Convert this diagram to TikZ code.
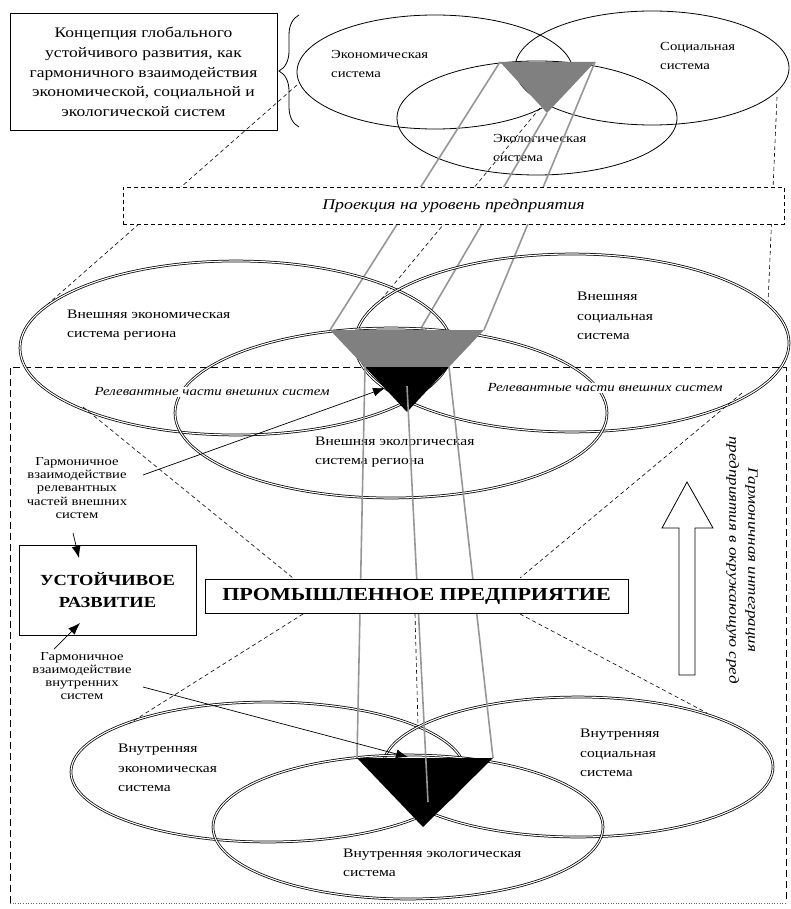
\documentclass[tikz,border=0pt]{standalone}
\usepackage{fontspec}
\setmainfont{Liberation Serif}[FakeStretch=1.2]
\usetikzlibrary{arrows.meta,decorations.pathreplacing}
\definecolor{linegray}{RGB}{150,150,150}
\definecolor{trigray}{RGB}{128,128,128}
\begin{document}
\begin{tikzpicture}[x=1pt,y=-1pt,
  thinell/.style={line width=0.8pt},
  dblell/.style={line width=0.75pt,double=white,double distance=1.1pt},
  projline/.style={line width=0.6pt,dash pattern=on 4pt off 3pt},
  framedash/.style={line width=0.9pt,dash pattern=on 7pt off 4pt},
  grayline/.style={draw=linegray,line width=1.6pt},
  arr/.style={line width=0.7pt,-{Latex[length=12pt,width=9pt]}},
  lbl/.style={align=left,anchor=west,inner sep=0pt},
  smalllbl/.style={font=\fontsize{12.3}{19}\selectfont},
  midlbl/.style={font=\fontsize{13}{19.5}\selectfont},
  rel/.style={font=\itshape\fontsize{12.4}{14}\selectfont,fill=white,inner sep=1pt},
  sidelbl/.style={font=\fontsize{12.2}{13.2}\selectfont,align=center,inner sep=0pt},
  bigbox/.style={draw,line width=1pt,fill=white,align=center},
]
\useasboundingbox (0,0) rectangle (791,909);

% ---------- enterprise frame ----------
\coordinate (fTL) at (10,367); \coordinate (fTR) at (786,367);
\coordinate (fBL) at (10,903); \coordinate (fBR) at (786,903);
\draw[framedash] (fBL) -- (fTL) -- (fTR) -- (fBR);
\draw[line width=0.6pt,dotted,black!60] (fBL) -- (fBR);

% ---------- top level ----------
\node[draw,line width=1pt,minimum width=267pt,minimum height=117pt,align=center,
      font=\fontsize{14.6}{19.6}\selectfont] (concept) at (143.5,72)
  {Концепция глобального\\устойчивого развития, как\\гармоничного взаимодействия\\экономической, социальной и\\экологической систем};
\coordinate (brB) at (299,127); \coordinate (brT) at (299,15);
\draw[line width=0.8pt,decorate,decoration={brace,amplitude=20pt}] (brB) -- (brT);

\coordinate (eT) at (435,72); \coordinate (sT) at (652,68); \coordinate (oT) at (537,118);
\draw[thinell] (eT) ellipse [x radius=138pt,y radius=57pt];
\draw[thinell] (sT) ellipse [x radius=137pt,y radius=57pt];
\draw[thinell] (oT) ellipse [x radius=140pt,y radius=57pt];

\coordinate (tA) at (500,62); \coordinate (tB) at (595,62); \coordinate (tC) at (547,113);
\fill[trigray] (tA) -- (tB) -- (tC) -- cycle;

\node[lbl,smalllbl] (econT) at (331,64) {Экономическая\\система};
\node[lbl,smalllbl] (socT) at (660,56) {Социальная\\система};
\node[lbl,smalllbl] (ecoT) at (493,148) {Экологическая\\система};

% projection dashed lines (top -> middle)
\coordinate (pa1) at (297,85);  \coordinate (pa2) at (40,311);
\coordinate (pb1) at (540,108); \coordinate (pb2) at (380,301);
\coordinate (pc1) at (777,97);  \coordinate (pc2) at (768,303);
\draw[projline] (pa1) -- (pa2);
\draw[projline] (pb1) -- (pb2);
\draw[projline] (pc1) -- (pc2);

% middle triangle coordinates
\coordinate (mA) at (330,330); \coordinate (mB) at (484,330); \coordinate (mC) at (407,412);
\coordinate (mL) at (365,367); \coordinate (mR) at (449,367); \coordinate (mX) at (420,330);
\coordinate (mBt) at (407,386);

% gray projection lines (top -> middle)
\draw[grayline] (tA) -- (mA);
\draw[grayline] (tC) -- (mX);
\draw[grayline] (tB) -- (mB);

% projection box
\node[draw,projline,fill=white,minimum width=661pt,minimum height=37pt,
      font=\itshape\fontsize{14.9}{16}\selectfont] (proj) at (453.5,205.5) {Проекция на уровень предприятия};

% ---------- middle level ----------
\coordinate (eM) at (236,348); \coordinate (sM) at (572,343); \coordinate (oM) at (391,413);
\draw[dblell] (eM) ellipse [x radius=216pt,y radius=87pt];
\draw[dblell] (sM) ellipse [x radius=217pt,y radius=89pt];
\draw[dblell] (oM) ellipse [x radius=216pt,y radius=85pt];

\fill[trigray] (mA) -- (mB) -- (mR) -- (mL) -- cycle;
\fill[black] (mL) -- (mR) -- (mC) -- cycle;

\node[lbl,midlbl] (econM) at (67,325) {Внешняя экономическая\\система региона};
\node[lbl,midlbl] (socM) at (577,316) {Внешняя\\социальная\\система};
\node[lbl,midlbl] (ecoM) at (315,452) {Внешняя экологическая\\система региона};
\node[rel] (relL) at (212,392) {Релевантные части внешних систем};
\node[rel] (relR) at (605,388) {Релевантные части внешних систем};

% ---------- lower level ----------
\coordinate (eL) at (268,772); \coordinate (sL) at (578,767); \coordinate (oL) at (408,827);
\draw[dblell] (eL) ellipse [x radius=197pt,y radius=70pt];
\draw[dblell] (sL) ellipse [x radius=195pt,y radius=70pt];
\draw[dblell] (oL) ellipse [x radius=195pt,y radius=72pt];

\coordinate (lA) at (357,758); \coordinate (lB) at (493,758); \coordinate (lC) at (423,827);
\coordinate (lBe) at (428,802);
\fill[black] (lA) -- (lB) -- (lC) -- cycle;

% gray projection lines (middle -> lower)
\draw[grayline] (mL) -- (lA);
\draw[grayline] (mBt) -- (lBe);
\draw[grayline] (mR) -- (lB);

\node[lbl,midlbl] (econL) at (118,768) {Внутренняя\\экономическая\\система};
\node[lbl,midlbl] (socL) at (580,753) {Внутренняя\\социальная\\система};
\node[lbl,midlbl] (ecoL) at (343,863) {Внутренняя экологическая\\система};

% enterprise & sustainable development boxes
\coordinate (pd1) at (83,407);  \coordinate (pd2) at (293,578);
\coordinate (pe1) at (742,393); \coordinate (pe2) at (520,578);
\coordinate (pf1) at (303,614); \coordinate (pf2) at (130,723);
\coordinate (pg1) at (520,614); \coordinate (pg2) at (707,713);
\coordinate (ph1) at (415,614); \coordinate (ph2) at (418,726);
\draw[projline] (pd1) -- (pd2);
\draw[projline] (pe1) -- (pe2);
\draw[projline] (pf1) -- (pf2);
\draw[projline] (pg1) -- (pg2);
\draw[projline] (ph1) -- (ph2);

\node[bigbox,minimum width=423pt,minimum height=34pt,font=\bfseries\fontsize{18.4}{22}\selectfont] (ent) at (416.5,596) {ПРОМЫШЛЕННОЕ ПРЕДПРИЯТИЕ};
\node[bigbox,minimum width=177pt,minimum height=90pt,font=\bfseries\fontsize{15.4}{22}\selectfont] (sust) at (107.5,590) {УСТОЙЧИВОЕ\\РАЗВИТИЕ};

% side labels and arrows
\node[sidelbl] (harmExt) at (77,488) {Гармоничное\\взаимодействие\\релевантных\\частей внешних\\систем};
\node[sidelbl] (harmInt) at (82,676) {Гармоничное\\взаимодействие\\внутренних\\систем};
\coordinate (a1s) at (143,475); \coordinate (a1e) at (385,388);
\coordinate (a2s) at (73,533);  \coordinate (a2e) at (79,558);
\coordinate (a3s) at (54,649);  \coordinate (a3e) at (80,623);
\coordinate (a4s) at (143,687); \coordinate (a4e) at (408,757);
\draw[arr] (a1s) -- (a1e);
\draw[arr] (a2s) -- (a2e);
\draw[arr] (a3s) -- (a3e);
\draw[arr] (a4s) -- (a4e);

% big hollow arrow and vertical text
\draw[line width=0.8pt,fill=white] (687,482) -- (713,528) -- (695,528) -- (695,675) -- (679,675) -- (679,528) -- (662,528) -- cycle;
\node[rotate=-90,align=center,inner sep=0pt,font=\itshape\fontsize{14.2}{19}\selectfont] (vt) at (742,560)
  {Гармоничная интеграция\\предприятия в окружающую сред};
\end{tikzpicture}
\end{document}
